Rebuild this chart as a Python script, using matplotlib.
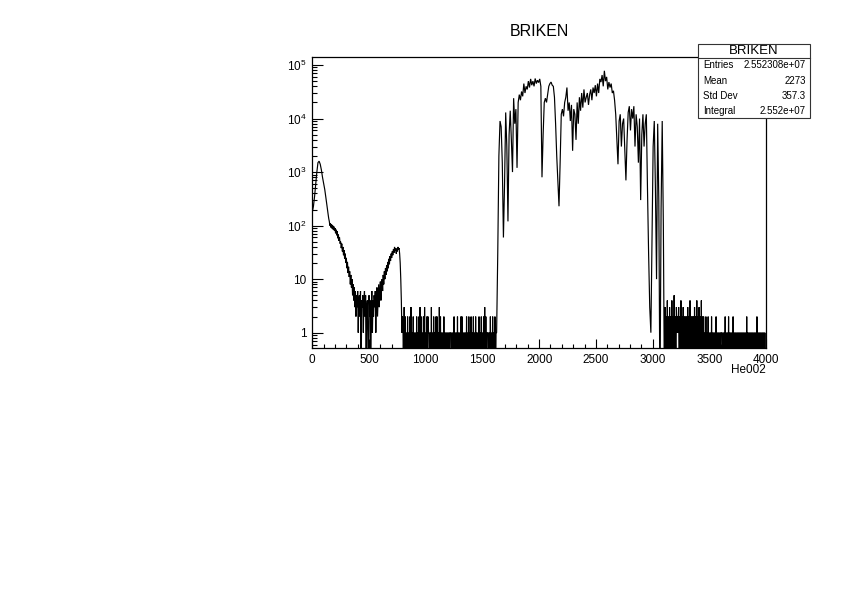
import numpy as np
import matplotlib
matplotlib.use("Agg")
import matplotlib.pyplot as plt
from matplotlib.patches import Rectangle
from matplotlib.lines import Line2D
from matplotlib.ticker import FixedLocator, LogLocator, NullFormatter, MultipleLocator

plt.rcParams['font.family'] = ['Liberation Sans', 'DejaVu Sans']
plt.rcParams['mathtext.fontset'] = 'custom'
plt.rcParams['mathtext.rm'] = 'Liberation Sans'
plt.rcParams['mathtext.it'] = 'Liberation Sans'

# ---------------- data ----------------
title = "BRIKEN"
x_label = "He002"

# first peak, 10-channel samples from 0 to 95
peak_counts = [180, 230, 350, 600, 1000, 1500, 1600, 1400, 1100, 800]

# tail and bump, 5-channel samples from 100 to 795
tail_counts = [620, 540, 470, 400, 330, 280, 230, 190, 160, 135,
               120, 100, 110, 92, 105, 88, 100, 84, 96, 80,
               90, 72, 84, 66, 78, 58, 68, 52, 60, 46,
               50, 38, 46, 33, 40, 28, 35, 24, 30, 20,
               25, 16, 21, 13, 17, 11, 14, 8, 12, 7,
               10, 5, 8, 4, 7, 3, 6, 2, 5, 3,
               6, 1, 4, 5, 2, 6, 0, 4, 3, 5,
               1, 4, 6, 2, 5, 0, 3, 4, 1, 0,
               5, 2, 4, 0, 3, 6, 1, 4, 2, 5,
               3, 6, 1, 5, 7, 2, 4, 8, 3, 6,
               9, 4, 7, 10, 6, 12, 8, 14, 10, 16,
               12, 18, 14, 21, 16, 24, 19, 27, 22, 30,
               25, 33, 28, 36, 31, 40, 34, 38, 30, 37,
               33, 40, 36, 38, 30, 20, 10, 4, 1, 2]

# sparse region 800-1620, 5-channel samples
noise_a = [int(c) for c in (
    "1030201020" "1020301020" "1010201020" "3020102030"
    "1020211010" "3010201020" "2010302010" "1020101010"
    "1011101010" "2010102010" "1020201010" "1020102010"
    "2010201020" "1010201020" "1020302011" "1010201020"
    "10201")]

# main peak region 1625-3095, 10-channel samples
main_counts = [1, 30, 2000, 9000, 7000, 1500, 60, 600, 13000, 3000,
               120, 5000, 14000, 4000, 1000, 24000, 8000, 15000, 1200, 20000,
               28000, 22000, 32000, 26000, 45000, 30000, 40000, 35000, 50000, 38000,
               55000, 42000, 50000, 40000, 56000, 45000, 52000, 47000, 55000, 40000,
               800, 5000, 20000, 24000, 20000, 28000, 40000, 45000, 48000, 42000,
               40000, 25000, 8000, 2000, 700, 230, 1500, 12000, 15000, 11000,
               20000, 25000, 38000, 14000, 20000, 9000, 18000, 2500, 15000, 12000,
               4000, 20000, 8000, 25000, 14000, 30000, 16000, 35000, 20000, 25000,
               30000, 18000, 28000, 35000, 22000, 38000, 30000, 42000, 26000, 45000,
               30000, 55000, 48000, 65000, 40000, 78000, 50000, 60000, 35000, 48000,
               38000, 45000, 30000, 33000, 22000, 12000, 4000, 1400, 9000, 12000,
               3000, 8000, 10000, 2500, 700, 4000, 13000, 17000, 6000, 15000,
               10000, 17000, 3000, 12000, 7000, 1500, 10000, 300, 5000, 12000,
               3000, 8000, 12000, 500, 30, 3, 1, 60, 3000, 9000,
               500, 10, 8000, 300, 0, 200, 9000, 100]

# sparse region 3100-4000, 5-channel samples
noise_b = [int(c) for c in (
    "2030204020" "3020402050" "2031213020" "4020302020"
    "2030204020" "2020302040" "2030204020" "2010201020"
    "1010201010" "1020101010" "1110101020" "1010201010"
    "1020101010" "1010101010" "1010102010" "1010101010"
    "1010201010" "1010101010")]

stats_labels = ["Entries", "Mean", "Std Dev", "Integral"]
stats_values = ["2.552308e+07", "2273", "357.3", "2.552e+07"]

# ---------------- build curve ----------------
x_peak = 0 + 10 * np.arange(len(peak_counts))
x_tail = 100 + 5 * np.arange(len(tail_counts))
x_a = 800 + 5 * np.arange(len(noise_a))
x_main = 1625 + 10 * np.arange(len(main_counts))
x_b = 3100 + 5 * np.arange(len(noise_b))

xs = np.concatenate([x_peak, x_tail, x_a, x_main, x_b, [4000]])
ys = np.concatenate([peak_counts, tail_counts, noise_a, main_counts, noise_b,
                     [noise_b[-1]]]).astype(float)
ys_draw = np.where(ys > 0, ys, 0.05)

W, H = 842, 595
fig = plt.figure(figsize=(W / 100, H / 100), dpi=100)

def fx(px):
    return px / W

def fy(py):
    return 1 - py / H

ax_l, ax_r, ax_t, ax_b = 312.3, 766.0, 56.7, 348.3
ax = fig.add_axes([fx(ax_l), fy(ax_b), fx(ax_r - ax_l), (ax_b - ax_t) / H])
ax.plot(xs, ys_draw, color='black', lw=0.85, solid_joinstyle='miter')
ax.set_yscale('log')
ax.set_xlim(0, 4000)
ax.set_ylim(0.511, 1.43e5)

ax.xaxis.set_major_locator(MultipleLocator(500))
ax.xaxis.set_minor_locator(MultipleLocator(100))
ax.yaxis.set_major_locator(FixedLocator([1, 10, 100, 1e3, 1e4, 1e5]))
ax.yaxis.set_minor_locator(LogLocator(base=10, subs=np.arange(2, 10)))
ax.yaxis.set_minor_formatter(NullFormatter())
ax.set_yticklabels(["1", "10", r"$10^{2}$", r"$10^{3}$", r"$10^{4}$", r"$10^{5}$"])
ax.set_xticks([0, 500, 1000, 1500, 2000, 2500, 3000, 3500, 4000])
ax.set_xticklabels(["0", "500", "1000", "1500", "2000", "2500", "3000", "3500", "4000"])

ax.tick_params(axis='x', which='major', direction='in', length=6.5, width=0.8,
               labelsize=8.5, pad=4, top=False)
ax.tick_params(axis='x', which='minor', direction='in', length=3.2, width=0.8, top=False)
ax.tick_params(axis='y', which='major', direction='in', length=8, width=0.8,
               labelsize=8.5, pad=4, right=False)
ax.tick_params(axis='y', which='minor', direction='in', length=3.6, width=0.8, right=False)
for s in ax.spines.values():
    s.set_linewidth(0.9)

fig.text(fx(539), fy(32), title, ha='center', va='center', fontsize=11.5)
fig.text(fx(766), fy(370), x_label, ha='right', va='center', fontsize=8.5)

# stats box
bl, br, bt, bb = 697.5, 810.0, 43.5, 117.5
fig.add_artist(Rectangle((fx(bl), fy(bb)), fx(br - bl), (bb - bt) / H,
                         transform=fig.transFigure, facecolor='white',
                         edgecolor='#333333', lw=0.8, zorder=10))
fig.add_artist(Line2D([fx(bl), fx(br)], [fy(58.3), fy(58.3)],
                      transform=fig.transFigure, color='#333333', lw=0.8, zorder=11))
fig.text(fx((bl + br) / 2), fy(51), title, ha='center', va='center', fontsize=9.5, zorder=12)
row_y = [65.5, 81.0, 96.0, 110.5]
for lab, val, ry in zip(stats_labels, stats_values, row_y):
    fig.text(fx(703), fy(ry), lab, ha='left', va='center', fontsize=7, zorder=12)
    fig.text(fx(806), fy(ry), val, ha='right', va='center', fontsize=7, zorder=12)

fig.savefig("out.png", dpi=100)
